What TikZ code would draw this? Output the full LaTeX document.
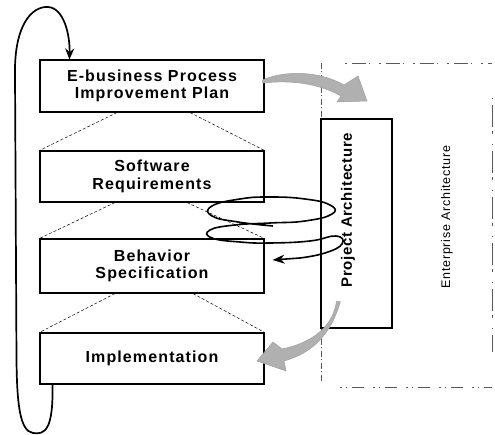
\documentclass[tikz,border=0pt]{standalone}
\usepackage{fontspec}
\setmainfont{Liberation Sans}
\newfontfamily\stagefont[LetterSpace=7]{Liberation Sans}
\newfontfamily\projfont[LetterSpace=4]{Liberation Sans}
\newfontfamily\framefont[LetterSpace=6]{Liberation Sans}
\usetikzlibrary{arrows.meta,calc}

\begin{document}
\begin{tikzpicture}[x=1pt,y=-1pt,
  stage/.style={draw, line width=1.1pt, fill=white, minimum width=224pt,
    minimum height=52pt, inner sep=0pt, align=center,
    font=\stagefont\bfseries\fontsize{16}{17.5}\selectfont},
  zoomline/.style={draw, line width=0.5pt, dash pattern=on 3pt off 2pt},
  loop/.style={draw, line width=1.7pt, -{Stealth[length=11pt,width=9pt]}},
  flow/.style={fill=gray!62, draw=gray!75, line width=0.5pt},
  frameline/.style={draw=black!65, line width=0.8pt}]

\useasboundingbox (0,0) rectangle (495,435);

% enterprise frame
\draw[frameline, dash pattern=on 6pt off 2pt on 1pt off 3pt] (321,63) -- (321,382);
\draw[frameline, dash pattern=on 2pt off 5pt on 14pt off 3pt on 1pt off 9pt] (345,63) -- (492,63);
\draw[frameline, dash pattern=on 1pt off 6pt on 22pt off 4pt on 3pt off 10pt] (492,98) -- (492,352);
\draw[frameline, dash pattern=on 2pt off 4pt on 1pt off 5pt on 12pt off 9pt] (340,387) -- (492,387);
\node[rotate=90, font=\framefont\fontsize{12.5}{14}\selectfont] (ea) at (447,217) {Enterprise Architecture};

% project box
\node[draw, line width=1.1pt, minimum width=71pt, minimum height=209pt,
  inner sep=0pt] (pa) at (356.5,223.5) {};
\node[rotate=90, font=\projfont\bfseries\fontsize{15}{17}\selectfont] (pat) at (348,210) {Project Architecture};

% stages
\node[stage] (s1) at (152,86) {E-business Process\\Improvement Plan};
\node[stage, minimum height=51pt] (s2) at (152,176.5) {Software\\Requirements};
\node[stage, minimum height=54pt] (s3) at (152,266) {Behavior\\Specification};
\node[stage, minimum height=51pt] (s4) at (152,358.5) {Implementation};

% refinement fans
\draw[zoomline] ($(s1.south)+(-35,0)$) -- (s2.north west);
\draw[zoomline] ($(s1.south)+(38,0)$) -- (s2.north east);
\draw[zoomline] ($(s2.south)+(-37,0)$) -- (s3.north west);
\draw[zoomline] ($(s2.south)+(35,0)$) -- (s3.north east);
\draw[zoomline] ($(s3.south)+(-37,0)$) -- (s4.north west);
\draw[zoomline] ($(s3.south)+(41,0)$) -- (s4.north east);

% iteration loop
\coordinate (lp0) at ($(s4.south west)+(13,0)$);
\coordinate (lp1) at ($(s1.north west)+(30,0)$);
\draw[loop] (lp0) .. controls ++(1,45) and (45,435) .. (33,433)
  .. controls (20,431) and (17,405) .. (16.5,360) -- (15,75)
  .. controls (14,25) and (32,6) .. (48,7)
  .. controls (64,8) and (70,35) .. (lp1);

% spiral into behaviour specification
\coordinate (sp0) at (273,226);
\coordinate (sp1) at ($(s3.east)+(8,-6)$);
\draw[line width=1.6pt, -{Stealth[length=12pt,width=9pt]}]
  plot[smooth, tension=0.8] coordinates {(sp0) (238,222) (212,216) (212,206) (240,199) (270,197)
   (305,199) (330,205) (332,214) (305,221) (270,223) (235,225) (210,230) (212,238) (240,242) (270,243)
   (310,241) (336,236) (342,244) (325,253) (300,258)} -- (sp1);

% grey flow arrows
\draw[flow] ($(s1.east)+(-2,-6)$) .. controls (285,70) and (320,71) .. (344,85)
  -- (358,76) -- (367,101) -- (337,102) -- (341,96)
  .. controls (318,83) and (290,80) .. ($(s1.east)+(-2,-3)$) -- cycle;
\draw[flow] ($(pa.south west)+(16,-27)$) .. controls (333,325) and (315,342) .. (282,349)
  -- (273,342) -- (257,361) -- (286,371) -- (284,361)
  .. controls (313,353) and (331,334) .. ($(pa.south west)+(20,-27)$) -- cycle;

\end{tikzpicture}
\end{document}
